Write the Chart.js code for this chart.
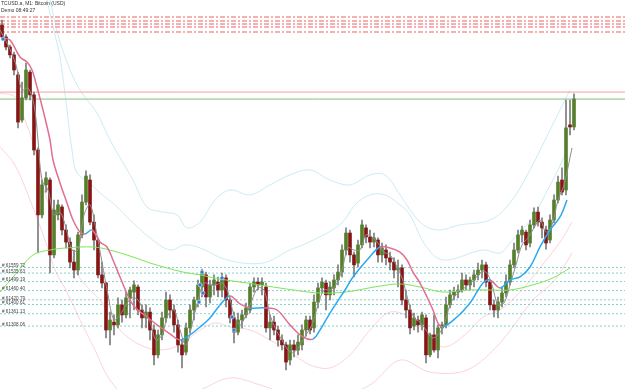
<!DOCTYPE html>
<html>
<head>
<meta charset="utf-8">
<script src="https://cdn.jsdelivr.net/npm/chart.js@4.4.1/dist/chart.umd.min.js"></script>
<style>
  html, body { margin: 0; padding: 0; background: #fff; }
  #wrap { width: 625px; height: 389px; }
</style>
</head>
<body>
<div id="wrap"><canvas id="chart" width="625" height="389"></canvas></div>
<script>
// M1 candles, one per minute (index 0 = leftmost bar)
const opens = [62602,62551,62508,62474,62388,62194,62289,62400,62302,62065,
  61786,61915,61936,61614,61786,61820,61721,61669,61583,61549,
  61700,61841,61936,61755,61678,61528,61493,61291,61325,61313,
  61399,61356,61429,61454,61476,61377,61343,61368,61291,61184,
  61270,61343,61420,61377,61313,61227,61196,61300,61377,61420,
  61476,61528,61433,61485,61497,61463,61515,61420,61343,61282,
  61334,61356,61377,61476,61497,61485,61476,61300,61325,61291,
  61248,61227,61162,61227,61205,61227,61291,61334,61300,61411,
  61472,61493,61442,61472,61506,61540,61635,61708,61614,61579,
  61657,61730,61691,61669,61678,61614,61635,61601,61583,61549,
  61558,61420,61377,61308,61334,61313,61343,61184,61270,61205,
  61300,61313,61399,61442,61454,61463,61506,61485,61506,61528,
  61549,61571,61497,61399,61377,61411,61450,61497,61571,61635,
  61700,61712,61665,61743,61798,61755,61721,61678,61764,61850,
  61936,61893,62173,62164];
const highs = [62624,62560,62516,62486,62400,62357,62439,62409,62314,62074,
  61936,61970,61945,61850,61850,61829,61743,61687,61635,61712,
  61872,61975,61958,61786,61687,61583,61497,61368,61356,61429,
  61420,61454,61476,61502,61485,61399,61399,61386,61313,61291,
  61368,61454,61442,61399,61334,61248,61321,61399,61433,61506,
  61553,61540,61506,61528,61519,61536,61528,61429,61368,61364,
  61377,61407,61493,61515,61515,61515,61493,61356,61351,61308,
  61270,61239,61248,61248,61270,61313,61351,61351,61442,61493,
  61515,61506,61497,61528,61571,61657,61730,61721,61626,61678,
  61764,61743,61721,61708,61687,61665,61657,61626,61601,61592,
  61571,61463,61399,61364,61351,61368,61356,61278,61356,61313,
  61325,61433,61463,61476,61485,61536,61528,61519,61549,61579,
  61592,61583,61506,61420,61433,61476,61528,61592,61665,61721,
  61738,61721,61764,61816,61820,61773,61738,61786,61872,61953,
  61988,62280,62280,62306];
const lows = [62538,62495,62461,62388,62160,62185,62280,62280,62044,61622,
  61773,61884,61536,61601,61764,61700,61644,61558,61515,61528,
  61687,61829,61743,61635,61515,61472,61257,61227,61270,61300,
  61325,61343,61343,61377,61356,61300,61300,61248,61141,61171,
  61248,61325,61343,61282,61196,61128,61184,61278,61334,61390,
  61433,61390,61407,61442,61433,61433,61390,61321,61235,61270,
  61300,61343,61364,61454,61463,61442,61282,61248,61270,61222,
  61205,61119,61141,61175,61184,61205,61265,61274,61282,61386,
  61454,61377,61420,61442,61485,61519,61614,61583,61519,61562,
  61644,61665,61644,61648,61583,61583,61571,61549,61515,61476,
  61399,61343,61274,61291,61282,61291,61149,61175,61196,61171,
  61274,61300,61386,61420,61429,61454,61463,61463,61476,61506,
  61515,61476,61377,61347,61343,61390,61433,61485,61558,61622,
  61669,61635,61648,61730,61738,61687,61639,61665,61751,61837,
  61872,61872,62130,62151];
const closes = [62551,62508,62474,62409,62185,62289,62409,62302,62065,61786,
  61915,61945,61614,61807,61829,61721,61669,61583,61549,61700,
  61841,61953,61755,61678,61528,61493,61291,61334,61313,61399,
  61356,61429,61463,61485,61377,61343,61368,61291,61184,61270,
  61343,61420,61377,61313,61227,61184,61300,61377,61420,61485,
  61536,61433,61485,61506,61463,61515,61420,61343,61282,61334,
  61356,61386,61476,61497,61485,61497,61300,61325,61291,61248,
  61227,61153,61227,61205,61239,61291,61334,61291,61411,61472,
  61497,61442,61476,61506,61540,61635,61708,61614,61571,61657,
  61743,61691,61669,61687,61614,61644,61601,61583,61549,61558,
  61420,61377,61300,61343,61313,61356,61184,61270,61205,61300,
  61313,61399,61442,61454,61463,61506,61485,61506,61528,61549,
  61571,61497,61399,61377,61411,61450,61497,61571,61635,61700,
  61721,61657,61743,61798,61755,61730,61665,61764,61850,61927,
  61884,62160,62164,62284];

// indicator lines as [bar index, price]
const fastMA = [[-0.5,62581],[1.5,62517],[3.5,62431],[5,62323],[6.5,62332],[8,62259],[9,62108],[10,61936],
  [11.5,61893],[13,61786],[14.5,61798],[16,61730],[17.5,61635],[19,61635],[20.5,61786],[22,61829],
  [23.5,61721],[25,61583],[26.5,61442],[28,61334],[29.5,61356],[31,61399],[32.5,61429],[34,61420],
  [35.5,61368],[37,61325],[38.5,61248],[40,61270],[41.5,61356],[43,61377],[44.5,61291],[46,61227],
  [47.5,61313],[49,61420],[50.5,61493],[52,61485],[53.5,61485],[55,61493],[56.5,61454],[58,61356],
  [59.5,61313],[61,61356],[62.5,61420],[64,61472],[65.5,61463],[67,61356],[68.5,61291],[70,61248],
  [71.5,61205],[73,61196],[74.5,61227],[76,61270],[77.5,61313],[79,61399],[80.5,61463],[82,61463],
  [83.5,61485],[85,61549],[86.5,61644],[88,61635],[89.5,61635],[91,61700],[92.5,61691],[94,61665],
  [95.5,61626],[97,61614],[98.5,61571],[100,61515],[101.5,61420],[103,61343],[104.5,61325],[106,61291],
  [107.5,61257],[109,61270],[110.5,61313],[112,61399],[113.5,61442],[115,61463],[116.5,61485],[118,61506],
  [119.5,61536],[121,61540],[122.5,61485],[124,61399],[125.5,61407],[127,61485],[128.5,61571],[130,61657],
  [131.5,61687],[133,61730],[134.5,61764],[136,61712],[137.5,61743],[139,61850],[140.5,61915],[142.5,62074]];
const trendMA = [[0.25,62547],[2,62538],[4.5,62465],[6.25,62443],[7.5,62409],[8.75,62336],[10.25,62237],
  [12,62108],[12.75,62022],[14.5,61923],[16.25,61837],[17.75,61764],[19.5,61712],[20.75,61704],[22.5,61721],
  [24.5,61669],[26.25,61648],[27.75,61592],[29.5,61519],[32.75,61399],[36.25,61347],[39.5,61304],[42,61274],
  [44.5,61248],[47,61270],[49.5,61304],[52,61343],[54.5,61399],[57,61437],[59.5,61403],[62,61386],
  [65.75,61386],[68.75,61377],[72,61313],[75.25,61261],[77.75,61252],[79.5,61291],[82,61364],[83.75,61411],
  [85.75,61463],[87.75,61519],[91.25,61592],[94.5,61648],[97,61644],[99.5,61626],[101.25,61592],
  [102.75,61540],[104.5,61493],[106.25,61433],[107.75,61377],[109,61321],[110.25,61304],[113.75,61347],
  [117,61407],[120.25,61493],[122,61506],[124.5,61472],[127,61506],[129.5,61519],[132,61562],[134.5,61648],
  [137,61721],[139.5,61777],[141.25,61850]];
const slowMA = [[-0.5,61454],[3.25,61528],[7.75,61614],[12,61635],[16.25,61644],[22.75,61648],[27,61635],
  [32.75,61605],[37,61579],[41.25,61558],[45.25,61540],[49.5,61528],[54.5,61510],[61.25,61493],[67.75,61476],
  [74.5,61459],[79.5,61450],[85.75,61454],[94.5,61480],[99.5,61489],[104.5,61476],[110.25,61454],
  [116.25,61463],[122,61463],[127,61463],[132.75,61485],[137.75,61515],[142,61558]];
const upperOuter = [[12,62710],[14,62560],[16.5,62431],[19.5,62323],[23.75,62224],[27,62108],[32.75,61936],
  [36.25,61820],[40.25,61798],[43.75,61786],[46.25,61730],[49.5,61755],[53.25,61850],[57,61893],[62,61872],
  [67,61915],[72,61958],[77,61979],[82,61936],[87,61915],[92,61958],[95.75,61958],[99.5,61872],[104.5,61755],
  [108.75,61721],[114.5,61743],[122,61764],[127,61837],[132,61979],[137,62151],[142,62323]];
const upperInner = [[11.25,62710],[13.25,62560],[14.5,62465],[16.25,62237],[17.5,62065],[18.75,61966],
  [22,61923],[24.5,61880],[28.25,61829],[32,61764],[37,61687],[42,61635],[45.75,61657],[49.5,61644],
  [56.25,61592],[65.25,61579],[72,61635],[76.25,61665],[84.5,61743],[88.25,61829],[92,61872],[95.75,61872],
  [99.5,61829],[102,61786],[105.75,61657],[110.25,61592],[120.25,61635],[124.5,61622],[127,61665],
  [132.75,61777],[135.75,61872],[139,61979],[141.25,62065]];
const lowerInner = [[-0.5,62310],[3.25,62293],[5.75,62194],[8.25,62065],[11.25,61850],[14.5,61764],
  [16.25,61691],[18.75,61536],[22,61463],[24.5,61420],[29.5,61291],[34.5,61227],[39.5,61205],[44.5,61227],
  [49.5,61291],[53.25,61321],[57,61304],[62,61291],[67,61248],[72,61196],[77,61141],[82,61128],[87,61184],
  [92,61291],[97,61368],[102,61343],[107,61257],[110.75,61218],[116.25,61278],[120.25,61347],[124.5,61377],
  [129.5,61454],[134.5,61558],[139.5,61669],[142.5,61755]];
const lowerOuter = [[-0.5,62078],[3.25,62000],[7,61850],[10.75,61678],[13.25,61549],[16.25,61454],
  [19.5,61334],[23.25,61205],[27,61076],[34.5,60947],[42,60990],[49.5,61033],[57,61085],[64.5,61055],
  [72,61012],[82,60990],[92,61055],[99.5,61162],[107,61110],[116.25,61119],[124.5,61235],[132.75,61420],
  [138.25,61506],[142.5,61622]];

// horizontal levels
const levelPrices = [61559.72, 61535.63, 61499.19, 61460.40, 61420.79, 61400.61, 61361.13, 61308.06];
const levelLabels = ["# 61559.72", "# 61535.63", "# 61499.19", "# 61460.40", "# 61420.79", "# 61400.61", "# 61361.13", "# 61308.06"];
const zonePrices = [62637, 62620, 62607, 62594, 62572];
const askPrice = 62314;
const bidPrice = 62284;
const signalMarks = [[0.25,62542],[50,61540],[49.5,61485],[50.25,61450],[49.25,61411],[55,61515],[57.5,61347],[58,61291]];

const X_MIN = -0.5, X_MAX = 155.75;
const Y_MIN = 61037.3, Y_MAX = 62710;

const BULL = "#557f2b", BEAR = "#861616";
const pts = (arr) => arr.map(([x, y]) => ({ x, y }));
const hline = (p) => [{ x: X_MIN, y: p }, { x: X_MAX, y: p }];

const lineDs = (data, color, width, order, extra = {}) => ({
  type: "line", data: pts(data), borderColor: color, borderWidth: width,
  pointRadius: 0, tension: 0.35, order, ...extra,
});

const datasets = [
  lineDs(upperOuter, "#cdebf3", 1, 20),
  lineDs(upperInner, "#cdebf3", 1, 20),
  lineDs(lowerInner, "#fdd3da", 1, 20),
  lineDs(lowerOuter, "#fdd3da", 1, 20),
  ...zonePrices.map((p) => ({ type: "line", data: hline(p), borderColor: "#f5b1b1", borderWidth: 2,
    borderDash: [5, 2, 2, 2], pointRadius: 0, order: 19 })),
  ...levelPrices.map((p) => ({ type: "line", data: hline(p), borderColor: "#86d0d0", borderWidth: 1,
    borderDash: [2, 2], pointRadius: 0, order: 18 })),
  { type: "line", data: hline(askPrice), borderColor: "#f2a0a0", borderWidth: 1, pointRadius: 0, order: 17 },
  { type: "line", data: hline(bidPrice), borderColor: "#7fc27f", borderWidth: 1, pointRadius: 0, order: 17 },
  {
    type: "bar", grouped: false, barThickness: 1, order: 12,
    data: highs.map((h, i) => ({ x: i, y: [lows[i], h] })),
    backgroundColor: "#7c7c7c",
  },
  {
    type: "bar", grouped: false, barThickness: 3, order: 11,
    data: opens.map((o, i) => ({ x: i, y: [o, closes[i]] })),
    backgroundColor: opens.map((o, i) => (closes[i] >= o ? BULL : BEAR)),
    borderColor: "#9c9c9c", borderWidth: 0, minBarLength: 1,
  },
  lineDs(slowMA, "#7ee65a", 1, 5),
  lineDs(fastMA, "#8e8e8e", 1, 4),
  lineDs(trendMA, "#e36f8e", 1.5, 3, {
    segment: { borderColor: (c) => (c.p1.parsed.y >= c.p0.parsed.y ? "#2aa9f2" : "#e36f8e") },
  }),
  { type: "scatter", data: pts(signalMarks), pointRadius: 2, pointBackgroundColor: "#2b7fd6",
    pointBorderColor: "#ffffff", pointBorderWidth: 0.5, order: 1 },
];

const overlayText = {
  id: "overlayText",
  beforeDraw(chart) {
    const { ctx } = chart;
    ctx.save();
    ctx.fillStyle = "#ffffff";
    ctx.fillRect(0, 0, chart.width, chart.height);
    ctx.restore();
  },
  afterDraw(chart) {
    const { ctx } = chart;
    const y = chart.scales.y;
    ctx.save();
    ctx.fillStyle = "#333333";
    ctx.textBaseline = "middle";
    ctx.font = '5px "Liberation Sans"';
    ctx.fillText("TCUSD.a, M1: Bitcoin (USD)", 1, 4);
    ctx.fillText("Demo 08:49:27", 1, 11);
    ctx.font = '4.6px "Liberation Sans"';
    ctx.fillStyle = "#444444";
    levelPrices.forEach((p, i) => ctx.fillText(levelLabels[i], 2, y.getPixelForValue(p) - 1.5));
    ctx.restore();
  },
};

new Chart(document.getElementById("chart"), {
  type: "bar",
  data: { datasets },
  options: {
    responsive: false,
    devicePixelRatio: 1,
    animation: false,
    events: [],
    layout: { padding: 0, autoPadding: false },
    scales: {
      x: { type: "linear", min: X_MIN, max: X_MAX, display: false, offset: false },
      y: { type: "linear", min: Y_MIN, max: Y_MAX, display: false },
    },
    plugins: { legend: { display: false }, tooltip: { enabled: false } },
  },
  plugins: [overlayText],
});
</script>
</body>
</html>
